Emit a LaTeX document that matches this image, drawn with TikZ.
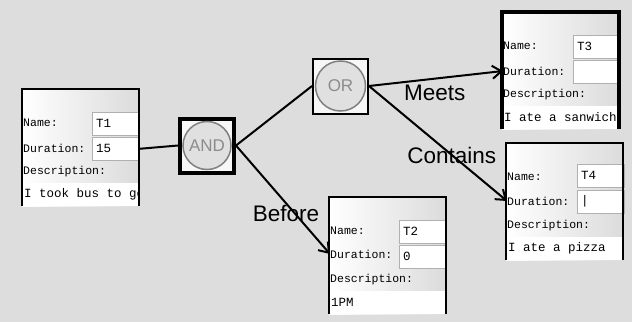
\documentclass[tikz,border=0pt]{standalone}
\usepackage{fontspec}
\setmainfont{Liberation Sans}
\newfontfamily\fieldfont{Liberation Mono}
\usetikzlibrary{arrows.meta,calc,positioning}
\definecolor{canvas}{RGB}{221,221,221}
\definecolor{ringgray}{RGB}{128,128,128}
\definecolor{fieldrim}{RGB}{176,176,176}

\begin{document}
\begin{tikzpicture}[%
      x=1pt,y=-1pt,                 % one unit = one pixel of the screen shot
      >={Straight Barb[length=9pt,width=13pt]},
      conn/.style={line width=2pt},
      font=\fontsize{12}{13}\selectfont
      ]
  \tikzset{
    panel/.style={anchor=north west, minimum width=117pt, minimum height=117pt,
      inner sep=0pt, outer sep=0pt, left color=white, right color=gray!28},
    rim/.style={line width=2pt},
    field/.style={draw=fieldrim, fill=white, line width=1pt, anchor=north west,
      minimum height=22.5pt, text width=40pt, inner xsep=3.5pt, inner ysep=0pt,
      align=left, font=\fieldfont\fontsize{12.5}{12}\selectfont},
    lbl/.style={anchor=west, inner sep=0pt, font=\fieldfont\fontsize{11.5}{12}\selectfont},
    descbox/.style={fill=white, anchor=south west, minimum width=117pt,
      minimum height=23pt, inner sep=0pt, outer sep=0pt},
    desctext/.style={anchor=west, inner sep=0pt, xshift=2pt,
      font=\fieldfont\fontsize{12.5}{12}\selectfont},
    gatebox/.style={draw, fill=gray!6, minimum size=54pt, inner sep=0pt},
    gatering/.style={circle, draw=ringgray, line width=1.5pt, fill=gray!24,
      minimum size=48pt, inner sep=0pt, text=black!45, font=\fontsize{17}{17}\selectfont},
    rel/.style={inner sep=0pt, font=\fontsize{22.5}{24}\selectfont}}

 \fill[canvas] (0,0) rectangle (632,322);

 % gates
 \node[gatebox,line width=4pt] (gand) at (207,145.5) {};
 \node[gatering] (andring) at (gand) {AND};
 \node[gatebox,line width=2pt,minimum size=55pt] (gor) at (340.5,86) {};
 \node[gatering,minimum size=50pt] (orring) at (gor) {OR};

 % task T1
 \node[panel] (t1) at (22,89) {};
 \node[lbl] (t1nl) at ($(t1.north west)+(1,34)$) {Name:};
 \node[field] (t1name) at ($(t1.north west)+(70,23)$) {T1};
 \node[lbl] (t1dl) at ($(t1.north west)+(1,59)$) {Duration:};
 \node[field] (t1dur) at ($(t1.north west)+(70,48)$) {15};
 \node[lbl] (t1sl) at ($(t1.north west)+(1,83)$) {Description:};
 \node[descbox] (t1desc) at (t1.south west) {};
 \begin{scope}
  \clip (t1desc.south west) rectangle (t1desc.north east);
  \node[desctext] (t1txt) at (t1desc.west) {I took bus to go};
 \end{scope}
 \draw[rim] (t1.south west) |- (t1.north east) -- (t1.south east);

 % task T2
 \node[panel] (t2) at (329,197) {};
 \node[lbl] (t2nl) at ($(t2.north west)+(1,34)$) {Name:};
 \node[field] (t2name) at ($(t2.north west)+(70,23)$) {T2};
 \node[lbl] (t2dl) at ($(t2.north west)+(1,57)$) {Duration:};
 \node[field] (t2dur) at ($(t2.north west)+(70,48)$) {0};
 \node[lbl] (t2sl) at ($(t2.north west)+(1,83)$) {Description:};
 \node[descbox] (t2desc) at (t2.south west) {};
 \node[desctext] (t2txt) at (t2desc.west) {1PM};
 \draw[rim] (t2.south west) |- (t2.north east) -- (t2.south east);

 % task T3
 \node[panel] (t3) at (502,12) {};
 \node[lbl] (t3nl) at ($(t3.north west)+(1,34)$) {Name:};
 \node[field] (t3name) at ($(t3.north west)+(71,23)$) {T3};
 \node[lbl] (t3dl) at ($(t3.north west)+(1,59)$) {Duration:};
 \node[field] (t3dur) at ($(t3.north west)+(71,48)$) {};
 \node[lbl] (t3sl) at ($(t3.north west)+(1,83)$) {Description:};
 \node[descbox] (t3desc) at (t3.south west) {};
 \node[desctext] (t3txt) at (t3desc.west) {I ate a sanwich};
 \draw[rim,line width=3.5pt] (t3.south west) |- (t3.north east) -- (t3.south east);

 % task T4
 \node[panel] (t4) at (506,143) {};
 \node[lbl] (t4nl) at ($(t4.north west)+(1,34)$) {Name:};
 \node[field] (t4name) at ($(t4.north west)+(71,21)$) {T4};
 \node[lbl] (t4dl) at ($(t4.north west)+(1,58)$) {Duration:};
 \node[field] (t4dur) at ($(t4.north west)+(71,47)$) {|};
 \node[lbl] (t4sl) at ($(t4.north west)+(1,83)$) {Description:};
 \node[descbox] (t4desc) at (t4.south west) {};
 \node[desctext] (t4txt) at (t4desc.west) {I ate a pizza};
 \draw[rim] (t4.south west) |- (t4.north east) -- (t4.south east);

 % relations
 \draw[conn] (t1dur.east) -- (gand.west);
 \draw[conn] (gand.east) -- (gor.west);
 \draw[conn,->] (gand.east) -- node[rel,pos=0.627,xshift=-9pt] (before) {Before} (t2dl.west);
 \draw[conn,->] (gor.east) -- node[rel,pos=0.49,yshift=-14pt] (meets) {Meets} (t3dl.west);
 \draw[conn,->] (gor.east) -- node[rel,pos=0.6] (contains) {Contains} (t4dl.west);
\end{tikzpicture}
\end{document}
